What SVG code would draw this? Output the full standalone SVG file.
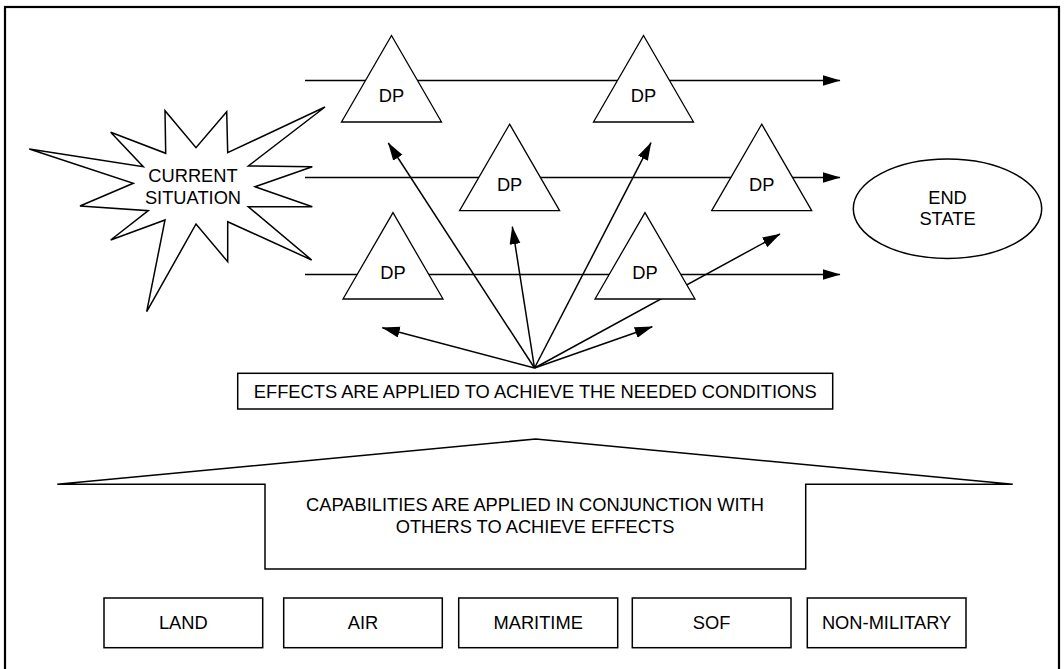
<svg xmlns="http://www.w3.org/2000/svg" width="1064" height="669" viewBox="0 0 1064 669">
  <style>
    .frame { fill: none; stroke: #000; stroke-width: 2.2; }
    .shape { fill: #fff; stroke: #000; stroke-width: 1.5; }
    .tri { fill: #fff; stroke: #000; stroke-width: 1.3; }
    .link { fill: none; stroke: #000; stroke-width: 1.5; marker-end: url(#head); }
    .label { font-family: "Liberation Sans", Arial, sans-serif; font-size: 18.3px; fill: #000; text-anchor: middle; }
  </style>
  <defs>
    <marker id="head" markerUnits="userSpaceOnUse" markerWidth="19" markerHeight="12" refX="17.5" refY="5.5" orient="auto">
      <path d="M0,0 L18,5.5 L0,11 Z" fill="#000"/>
    </marker>
  </defs>

  <rect width="1064" height="669" fill="#fff"/>
  <rect class="frame" x="5" y="7" width="1054" height="700"/>

  <!-- lines of operation and effect arrows -->
  <g id="connectors">
    <line class="link" x1="305" y1="80.5" x2="840" y2="80.5"/>
    <line class="link" x1="305" y1="177.5" x2="840" y2="177.5"/>
    <line class="link" x1="305" y1="274.5" x2="840" y2="274.5"/>
    <line class="link" x1="534.5" y1="368" x2="382.3" y2="327.7"/>
    <line class="link" x1="534.5" y1="368" x2="388.3" y2="143"/>
    <line class="link" x1="534.5" y1="368" x2="512.3" y2="226.7"/>
    <line class="link" x1="534.5" y1="368" x2="651" y2="142.7"/>
    <line class="link" x1="534.5" y1="368" x2="780" y2="234"/>
    <line class="link" x1="534.5" y1="368" x2="652.3" y2="326.7"/>
  </g>

  <g id="current-situation">
    <polygon class="shape" stroke-width="1.8" points="325,107 248.3,166 312.3,166.7 255,186.7 312.3,206.7 248.3,206.7 311.7,260 227.7,221.7 227.7,261.7 196,224 146.7,311.7 165,220 110.7,240 148.3,210.7 80,206 133.3,183.3 29.3,149 143.3,166.7 110.7,132.3 165.7,153.3 165,110.7 196,147.7 226.7,111.7 227.7,152.7"/>
    <text class="label" x="193" y="182.3">CURRENT</text>
    <text class="label" x="193" y="204">SITUATION</text>
  </g>

  <g id="dp-1">
    <polygon class="tri" points="391.5,35.5 441.5,122 341.5,122"/>
    <text class="label" x="391.5" y="102.3">DP</text>
  </g>
  <g id="dp-2">
    <polygon class="tri" points="643.5,35.5 693.5,122 593.5,122"/>
    <text class="label" x="643.5" y="102.3">DP</text>
  </g>
  <g id="dp-3">
    <polygon class="tri" points="509.6,124.2 559.6,210.7 459.6,210.7"/>
    <text class="label" x="509.6" y="190.5">DP</text>
  </g>
  <g id="dp-4">
    <polygon class="tri" points="761.7,124.2 811.7,210.7 711.7,210.7"/>
    <text class="label" x="761.7" y="190.5">DP</text>
  </g>
  <g id="dp-5">
    <polygon class="tri" points="393,212.6 443,299 343,299"/>
    <text class="label" x="393" y="279">DP</text>
  </g>
  <g id="dp-6">
    <polygon class="tri" points="645,212.6 695,299 595,299"/>
    <text class="label" x="645" y="279">DP</text>
  </g>

  <g id="end-state">
    <ellipse class="shape" stroke-width="1.3" cx="947.5" cy="208.7" rx="94.2" ry="49.7"/>
    <text class="label" x="947.5" y="204">END</text>
    <text class="label" x="947.5" y="225">STATE</text>
  </g>

  <g id="effects">
    <rect class="shape" x="237.7" y="373.3" width="595" height="35.7"/>
    <text class="label" x="535.2" y="397.7">EFFECTS ARE APPLIED TO ACHIEVE THE NEEDED CONDITIONS</text>
  </g>

  <g id="capabilities">
    <polygon class="shape" points="57.3,484.3 535.7,439 1012.7,484.3 805.7,484.3 805.7,569 265,569 265,484.3"/>
    <text class="label" x="535" y="510.7">CAPABILITIES ARE APPLIED IN CONJUNCTION WITH</text>
    <text class="label" x="535" y="532.7">OTHERS TO ACHIEVE EFFECTS</text>
  </g>

  <g id="land">
    <rect class="shape" x="104" y="598" width="158.7" height="49.7"/>
    <text class="label" x="183.3" y="629">LAND</text>
  </g>
  <g id="air">
    <rect class="shape" x="283.7" y="598" width="158.6" height="49.7"/>
    <text class="label" x="363" y="629">AIR</text>
  </g>
  <g id="maritime">
    <rect class="shape" x="458.7" y="598" width="159" height="49.7"/>
    <text class="label" x="538.2" y="629">MARITIME</text>
  </g>
  <g id="sof">
    <rect class="shape" x="632.3" y="598" width="158.7" height="49.7"/>
    <text class="label" x="711.6" y="629">SOF</text>
  </g>
  <g id="non-military">
    <rect class="shape" x="807.3" y="598" width="158.7" height="49.7"/>
    <text class="label" x="886.6" y="629">NON-MILITARY</text>
  </g>
</svg>
